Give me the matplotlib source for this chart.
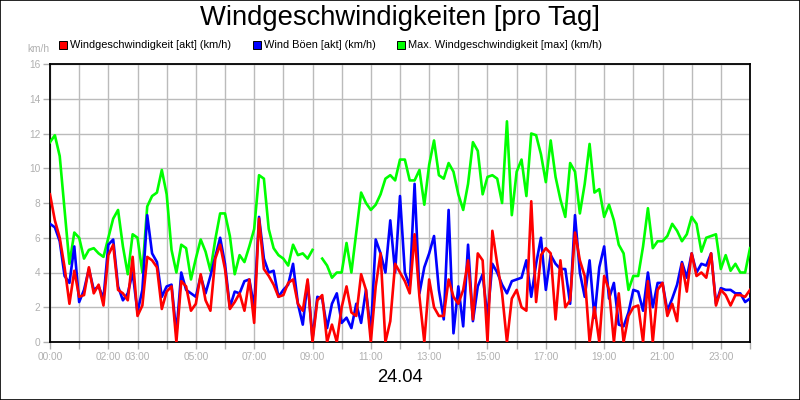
import numpy as np
import matplotlib
import matplotlib.pyplot as plt
from matplotlib.patches import Rectangle

matplotlib.use("Agg")
plt.rcParams["font.family"] = ["Liberation Sans", "DejaVu Sans"]

# 10-minute samples, 00:00 .. 24:00
wind_max = [
    11.5, 11.9, 10.7, 7.6, 4.5, 6.3, 6.0, 4.8, 5.3, 5.4,
    5.1, 4.9, 6.0, 7.1, 7.6, 5.5, 3.9, 6.2, 6.0, 4.0,
    7.8, 8.4, 8.6, 9.9, 8.5, 5.3, 4.0, 5.6, 5.4, 3.6,
    4.8, 5.9, 5.2, 4.1, 5.9, 7.4, 7.4, 6.1, 3.9, 5.0,
    4.6, 5.5, 6.5, 9.6, 9.4, 6.5, 5.4, 5.0, 4.8, 4.4,
    5.6, 5.0, 5.1, 4.8, 5.3, np.nan, 4.8, 4.4, 3.7, 4.0,
    4.0, 5.7, 4.0, 6.3, 8.6, 8.0, 7.6, 7.9, 8.5, 9.4,
    9.6, 9.3, 10.5, 10.5, 9.3, 9.3, 9.9, 7.9, 10.2, 11.6,
    9.6, 9.4, 10.3, 9.8, 8.5, 7.6, 9.1, 11.5, 11.0, 8.5,
    9.5, 9.6, 9.4, 8.0, 12.7, 7.3, 9.8, 10.5, 8.4, 12.0,
    11.9, 10.8, 9.2, 11.6, 9.5, 8.2, 7.2, 10.3, 9.8, 7.4,
    9.1, 11.4, 8.6, 8.8, 7.2, 7.9, 7.0, 5.6, 5.1, 3.0,
    3.8, 3.8, 5.5, 7.7, 5.4, 5.8, 5.8, 6.1, 6.8, 6.4,
    5.8, 6.2, 7.2, 6.8, 5.2, 6.0, 6.1, 6.2, 4.2, 5.0,
    4.1, 4.5, 4.0, 4.0, 5.4,
]
gusts = [
    6.8, 6.6, 5.8, 3.8, 3.4, 5.5, 2.3, 3.0, 4.2, 3.0,
    3.2, 2.5, 5.6, 5.9, 3.2, 2.4, 2.8, 4.0, 1.7, 3.0,
    7.3, 5.1, 4.6, 2.6, 3.2, 3.3, 0.5, 4.0, 3.0, 2.8,
    2.6, 3.8, 2.8, 3.8, 4.9, 6.0, 4.5, 2.0, 2.9, 2.8,
    3.5, 3.6, 2.0, 7.2, 4.8, 4.0, 4.1, 2.6, 3.0, 3.3,
    4.5, 2.2, 1.0, 3.5, 0.2, 2.6, 2.5, 0.8, 2.2, 2.8,
    1.1, 1.4, 0.8, 2.2, 1.1, 3.0, 0.5, 5.9, 5.1, 4.0,
    7.0, 4.0, 8.4, 4.0, 3.2, 9.1, 2.8, 4.3, 5.1, 6.1,
    3.0, 1.3, 7.6, 0.5, 3.2, 0.9, 5.6, 1.2, 3.2, 3.9,
    1.4, 4.5, 4.0, 3.3, 2.8, 3.5, 3.6, 3.7, 4.7, 2.6,
    4.5, 6.0, 3.0, 5.0, 4.5, 4.2, 4.2, 2.2, 7.3, 4.0,
    2.6, 4.7, 1.4, 4.3, 5.5, 2.5, 3.4, 1.0, 0.9, 1.7,
    3.0, 2.9, 1.8, 4.0, 2.0, 3.4, 3.4, 1.8, 2.5, 3.3,
    4.6, 3.7, 5.1, 4.0, 4.5, 4.4, 5.1, 2.2, 3.1, 3.0,
    3.0, 2.8, 2.8, 2.3, 2.5,
]
wind_now = [
    8.5, 7.0, 6.0, 4.3, 2.2, 4.1, 2.6, 2.7, 4.3, 2.8,
    3.3, 2.1, 5.0, 5.6, 3.0, 2.8, 2.4, 4.9, 1.5, 2.1,
    4.9, 4.7, 4.3, 1.9, 2.9, 3.2, 0.0, 3.5, 3.2, 1.8,
    2.2, 3.9, 2.4, 1.8, 4.8, 5.6, 4.2, 1.9, 2.3, 2.8,
    1.8, 3.6, 1.1, 7.1, 4.2, 3.8, 3.3, 2.6, 2.7, 3.4,
    3.6, 2.2, 1.8, 3.6, 0.0, 2.4, 2.7, 0.0, 1.0, 0.0,
    2.0, 3.2, 1.7, 1.5, 3.9, 3.0, 0.0, 3.2, 5.1, 0.0,
    1.2, 4.5, 4.0, 3.5, 2.8, 6.2, 2.6, 0.0, 3.6, 2.0,
    1.5, 1.5, 3.6, 2.6, 2.2, 3.0, 4.7, 1.3, 5.1, 4.7,
    0.0, 6.4, 4.5, 2.8, 0.0, 2.5, 3.0, 2.0, 1.8, 8.1,
    2.3, 5.0, 5.4, 5.1, 1.3, 4.7, 2.0, 2.4, 6.3, 4.7,
    3.8, 0.0, 2.0, 0.0, 3.8, 3.0, 0.0, 2.8, 0.0, 1.5,
    2.0, 2.1, 0.0, 3.5, 0.0, 3.0, 3.4, 1.5, 2.2, 1.2,
    4.5, 2.9, 5.1, 3.8, 4.0, 3.7, 5.1, 2.1, 3.0, 2.7,
    2.1, 2.7, 2.7, 2.6, 3.0,
]
hours = np.arange(len(wind_now)) / 6.0

tick_labels = ["00:00", "", "02:00", "03:00", "", "05:00", "", "07:00", "", "09:00",
               "", "11:00", "", "13:00", "", "15:00", "", "17:00", "", "19:00",
               "", "21:00", "", "23:00", ""]
series_names = ["Windgeschwindigkeit [akt] (km/h)", "Wind Böen [akt] (km/h)",
                "Max. Windgeschwindigkeit [max] (km/h)"]
series_colors = ["#ff0000", "#0000ff", "#00ff00"]

grey = "#b0b0b0"

fig = plt.figure(figsize=(8, 4), dpi=100)
ax = fig.add_axes([50 / 800, 58 / 400, 700 / 800, 278 / 400])

ax.plot(hours, wind_max, color=series_colors[2], lw=1.9, zorder=3)
ax.plot(hours, gusts, color=series_colors[1], lw=1.9, zorder=4)
ax.plot(hours, wind_now, color=series_colors[0], lw=1.9, zorder=5)

ax.set_xlim(0, 24)
ax.set_ylim(0, 16)
ax.set_xticks(range(25))
ax.set_xticklabels(tick_labels)
ax.set_yticks(range(0, 17, 2))
ax.grid(True, color="#bbbbbb", lw=1)
ax.set_axisbelow(True)
ax.tick_params(colors=grey, labelsize=7.3, length=5, width=1, pad=2)
for s in ax.spines.values():
    s.set_color("black")
    s.set_linewidth(1.3)

# legend row
legend_x = [59, 253, 397]
for name, col, x0 in zip(series_names, series_colors, legend_x):
    fig.patches.append(Rectangle((x0 / 800, 1 - 49 / 400), 8 / 800, 8 / 400,
                                 transform=fig.transFigure, facecolor=col,
                                 edgecolor="black", lw=0.7))
    fig.text((x0 + 11) / 800, 1 - 45 / 400, name, fontsize=7.9, va="center",
             ha="left", color="black")

fig.text(38 / 800, 1 - 49 / 400, "km/h", fontsize=7.3, color=grey, ha="center", va="center")
fig.text(0.5, 1 - 18 / 400, "Windgeschwindigkeiten [pro Tag]", fontsize=19.7,
         ha="center", va="center")
fig.text(0.5, 1 - 378 / 400, "24.04", fontsize=13.2, ha="center", va="center")

fig.patches.append(Rectangle((0.0006, 0.0012), 0.9988, 0.9976, transform=fig.transFigure,
                             fill=False, edgecolor="black", lw=1.2))

fig.savefig("out.png", dpi=100, facecolor="white")
